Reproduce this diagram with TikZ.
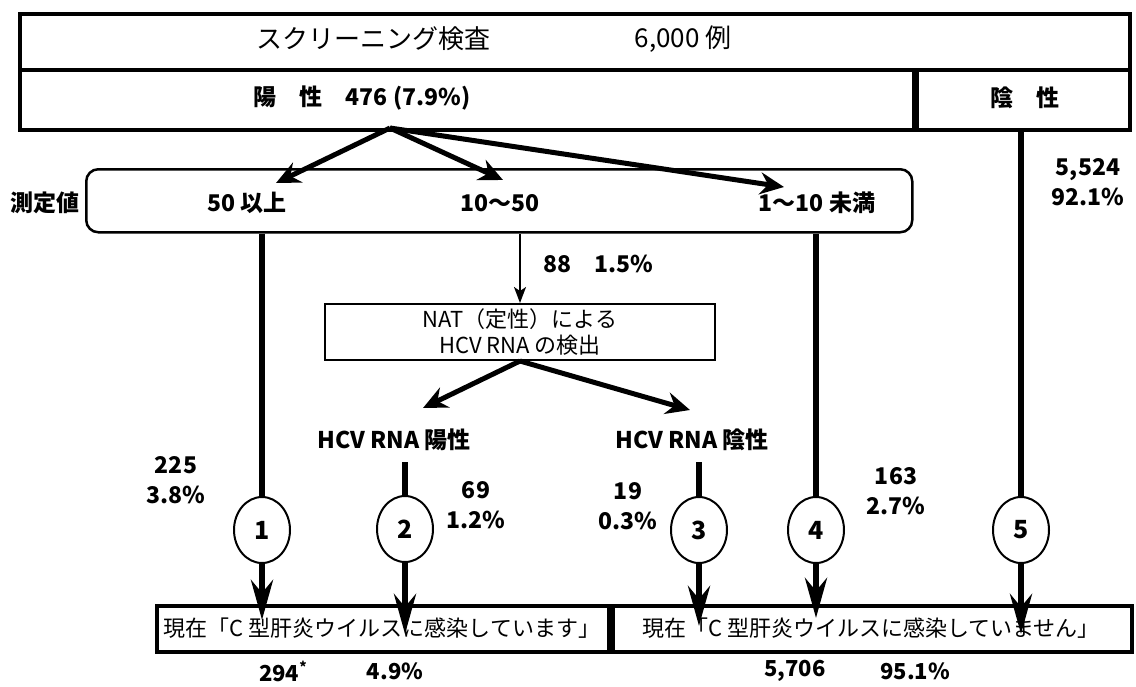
\documentclass[tikz,border=0pt]{standalone}
\usepackage{fontspec}
\setmainfont{Noto Sans CJK JP}
\usetikzlibrary{arrows.meta,shapes.geometric}
\begin{document}
\begin{tikzpicture}[x=1pt,y=-1pt,
  frame/.style={draw, line width=3.5pt, inner sep=0pt, anchor=north west},
  lbl/.style={font=\bfseries\fontsize{23}{30}\selectfont, inner sep=0pt, align=center},
  plain/.style={font=\fontsize{26}{28}\selectfont, inner sep=0pt, align=center},
  num/.style={draw, ellipse, line width=2pt, minimum width=56pt, minimum height=66pt, inner sep=0pt, fill=white, font=\bfseries\fontsize{25}{25}\selectfont},
  bigarrow/.style={line width=5pt, -{Stealth[length=24pt,width=22pt,inset=8pt]}},
  downarrow/.style={line width=6pt, -{Stealth[length=40pt,width=22pt,inset=13pt]}},
  thinarrow/.style={line width=2pt, -{Stealth[length=16pt,width=12pt,inset=4pt]}},
  bar/.style={line width=6pt},
]
\useasboundingbox (0,0) rectangle (1136,686);
% top boxes
\node[frame, minimum width=1110pt, minimum height=56pt] (screen) at (18,12) {};
\node[frame, minimum width=897pt, minimum height=60pt] (pos) at (18,68) {};
\node[frame, minimum width=213pt, minimum height=60pt] (neg) at (915,68) {};
\draw[line width=6pt] (neg.north west) -- (neg.south west);
\node[plain] (screentxt) at (373,39) {スクリーニング検査};
\node[plain] (count) at (683,39) {6,000 例};
\node[lbl] (postxt) at (362,98) {陽\quad 性\quad 476 (7.9\%)};
\node[lbl] (negtxt) at (1025,98) {陰\quad 性};
% measurement box
\node[draw, rounded corners=12pt, line width=2.5pt, minimum width=826pt, minimum height=63pt, anchor=north west, inner sep=0pt] (meas) at (85,168) {};
\node[lbl] (measlbl) at (45,203) {測定値};
\node[lbl] (g50) at (247,203) {50 以上};
\node[lbl] (g10) at (500,203) {10〜50};
\node[lbl] (g1) at (817,203) {1〜10 未満};
\coordinate (split) at (390,128);
\coordinate (t50) at (276,183);
\coordinate (t10) at (503,180);
\coordinate (t1) at (784,187);
\draw[bigarrow] (split) -- (t50);
\draw[bigarrow] (split) -- (t10);
\draw[bigarrow] (split) -- (t1);
% NAT
\node[draw, line width=2pt, minimum width=390pt, minimum height=56pt, inner sep=0pt, font=\fontsize{22}{26}\selectfont, align=center] (nat) at (520,332) {NAT（定性）による\\HCV RNA の検出};
\coordinate (a88) at (520,234);
\draw[thinarrow] (a88) -- (a88 |- nat.north);
\node[lbl] (n88) at (598,264) {88\quad 1.5\%};
\node[lbl] (hpos) at (394,440) {HCV RNA 陽性};
\node[lbl] (hneg) at (692,440) {HCV RNA 陰性};
\coordinate (tp) at (423,408);
\coordinate (tn) at (690,410);
\draw[bigarrow] (nat.south) -- (tp);
\draw[bigarrow] (nat.south) -- (tn);
% circles
\node[num] (c1) at (262,530) {1};
\node[num] (c2) at (405,529) {2};
\node[num] (c3) at (699,530) {3};
\node[num] (c4) at (816,530) {4};
\node[num] (c5) at (1021,530) {5};
\draw[bar] (c1 |- meas.south) -- (c1.north);
\draw[bar] (c4 |- meas.south) -- (c4.north);
\draw[bar] (c5 |- neg.south) -- (c5.north);
\coordinate (s2) at (405,462);
\coordinate (s3) at (699,462);
\draw[bar] (s2) -- (c2.north);
\draw[bar] (s3) -- (c3.north);
\node[lbl] (l1) at (176,480) {225\\3.8\%};
\node[lbl] (l2) at (476,505) {69\\1.2\%};
\node[lbl] (l3) at (628,506) {19\\0.3\%};
\node[lbl] (l4) at (896,491) {163\\2.7\%};
\node[lbl] (l5) at (1088,182) {5,524\\92.1\%};
% bottom boxes
\node[draw, line width=4pt, minimum width=452pt, minimum height=46pt, inner sep=0pt, anchor=north west] (inf) at (155,604) {};
\node[draw, line width=4pt, minimum width=519pt, minimum height=46pt, inner sep=0pt, anchor=north west] (noinf) at (611,604) {};
\node[inner sep=0pt, font=\fontsize{22}{24}\selectfont] (inftxt) at (382,628) {現在「C 型肝炎ウイルスに感染しています」};
\node[inner sep=0pt, font=\fontsize{22}{24}\selectfont] (noinftxt) at (871,628) {現在「C 型肝炎ウイルスに感染していません」};
\coordinate (e1) at (262,620);
\coordinate (e2) at (405,634);
\coordinate (e3) at (699,626);
\coordinate (e4) at (816,618);
\coordinate (e5) at (1021,634);
\draw[downarrow] (c1.south) -- (e1);
\draw[downarrow] (c2.south) -- (e2);
\draw[downarrow] (c3.south) -- (e3);
\draw[downarrow] (c4.south) -- (e4);
\draw[downarrow] (c5.south) -- (e5);
\node[lbl, font=\bfseries\fontsize{22}{24}\selectfont] (tot1) at (283,671) {294\raisebox{9pt}{\fontsize{14}{14}\selectfont *}};
\node[lbl, font=\bfseries\fontsize{22}{24}\selectfont] (pc1) at (395,671) {4.9\%};
\node[lbl, font=\bfseries\fontsize{22}{24}\selectfont] (tot2) at (795,671) {5,706};
\node[lbl, font=\bfseries\fontsize{22}{24}\selectfont] (pc2) at (915,671) {95.1\%};
\end{tikzpicture}
\end{document}
